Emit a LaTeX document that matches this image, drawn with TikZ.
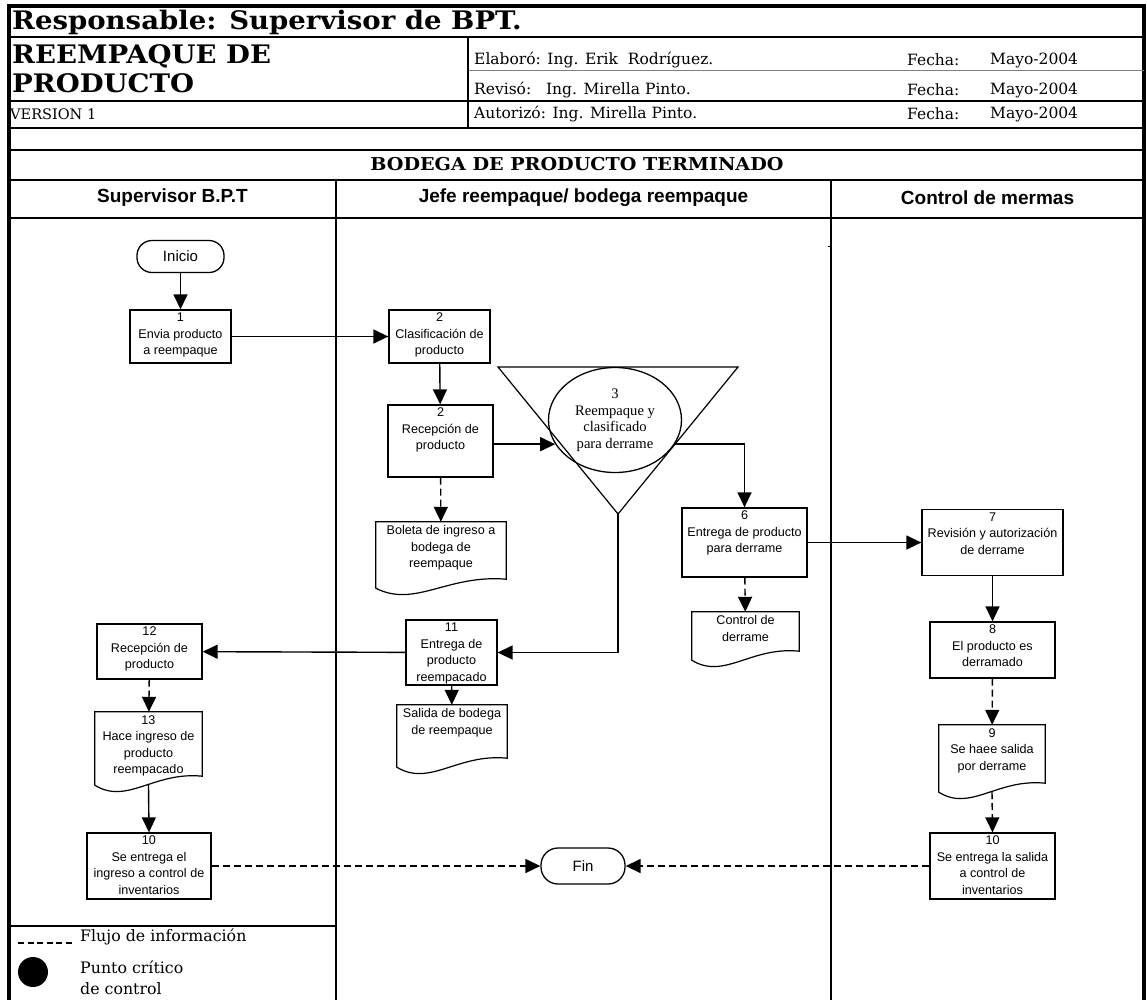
\documentclass[tikz,border=0pt]{standalone}
\usepackage{fontspec}
\setmainfont{Liberation Serif}
\setsansfont{Liberation Sans}
\newfontfamily\headserif{DejaVu Serif}
\newfontfamily\wideserif[FakeStretch=1.08]{DejaVu Serif}
\usetikzlibrary{arrows.meta,shapes.geometric,calc}

\newcommand\boxfont{\sffamily\fontsize{12.6}{16.5}\selectfont}
\newcommand\titlefont{\wideserif\bfseries\fontsize{25.5}{28}\selectfont}
\newcommand\infofont{\headserif\fontsize{15.5}{18}\selectfont}
\newcommand\legendfont{\headserif\fontsize{15.8}{18}\selectfont}
\newcommand\lanefont{\sffamily\bfseries\fontsize{19}{22}\selectfont}

% document symbol: straight top and sides, wavy bottom edge
\newcommand\drawdoc[1]{%
  \draw[line width=1.2pt] (#1.south west) -- (#1.north west) -- (#1.north east)
    -- ([yshift=9pt]#1.south east)
    .. controls ($(#1.south west)!0.55!(#1.south east)+(0,-14)$)
       and ($(#1.south west)!0.3!(#1.south east)+(0,20)$) .. (#1.south west) -- cycle;}

\begin{document}
\begin{tikzpicture}[x=1pt,y=-1pt,
  rule/.style={line width=2.4pt},
  lane/.style={line width=1.6pt},
  procbox/.style={draw, line width=1.3pt, rectangle, inner sep=0pt},
  docframe/.style={rectangle, inner sep=0pt},
  boxtext/.style={anchor=north, inner sep=0pt, yshift=-3.5pt, align=center, font=\boxfont},
  term/.style={draw, line width=1.3pt, rectangle, inner sep=0pt, font=\sffamily\fontsize{15}{18}\selectfont},
  flow/.style={line width=1.4pt, -{Triangle[length=15pt,width=14pt]}},
  info/.style={flow, dash pattern=on 7pt off 4pt},
  hdr/.style={anchor=west, inner sep=0pt, font=\infofont},
]
\useasboundingbox (0,0) rectangle (1147,999);
\clip (0,0) rectangle (1147,999);

% ---------- heading block ----------
\draw[line width=3.5pt] (9,1010) -- (9,6) -- (1144,6) -- (1144,1010);
\draw[rule] (9,37) -- (1144,37);
\draw[line width=1pt, gray] (468,70) -- (1144,70);
\draw[line width=1.8pt] (9,101) -- (1144,101);
\draw[rule] (9,128) -- (1144,128);
\draw[rule] (9,150) -- (1144,150);
\draw[line width=1.6pt] (9,180) -- (1144,180);
\draw[rule] (9,218) -- (1144,218);
\draw[line width=2pt] (468,37) -- (468,128);

\node[anchor=west, inner sep=0pt, font=\titlefont] (title) at (12,22) {Responsable: Supervisor de BPT.};
\node[anchor=west, inner sep=0pt, font=\titlefont] (name1) at (12,56) {REEMPAQUE DE};
\node[anchor=west, inner sep=0pt, font=\titlefont] (name2) at (12,83) {PRODUCTO};
\node[hdr, font=\headserif\fontsize{14.5}{17}\selectfont] (version) at (10,114) {VERSION 1};
\node[hdr] (elab) at (474,60) {Elaboró: Ing. Erik\ \ Rodríguez.};
\node[hdr] (rev) at (474,90) {Revisó:\ \ \ Ing. Mirella Pinto.};
\node[hdr] (aut) at (474,114) {Autorizó: Ing. Mirella Pinto.};
\node[hdr] (f1) at (907,60) {Fecha:};
\node[hdr] (f2) at (907,90) {Fecha:};
\node[hdr] (f3) at (907,114) {Fecha:};
\node[hdr] (d1) at (990,60) {Mayo-2004};
\node[hdr] (d2) at (990,90) {Mayo-2004};
\node[hdr] (d3) at (990,114) {Mayo-2004};
\node[inner sep=0pt, font=\wideserif\bfseries\fontsize{17.7}{20}\selectfont] (area) at (577,164) {BODEGA DE PRODUCTO TERMINADO};

% ---------- swim lanes ----------
\draw[lane] (336,180) -- (336,1010);
\draw[lane] (831,180) -- (831,1010);
\draw[line width=1pt] (828,246) -- (831,246);
\node[inner sep=0pt, font=\lanefont] (lane1) at (172.5,198) {Supervisor B.P.T};
\node[inner sep=0pt, font=\lanefont] (lane2) at (583.5,198) {Jefe reempaque/ bodega reempaque};
\node[inner sep=0pt, font=\lanefont] (lane3) at (987.5,198) {Control de mermas};

% ---------- legend ----------
\draw[line width=1.2pt] (9,926) -- (336,926);
\draw[line width=1.2pt, dash pattern=on 6pt off 3.5pt] (18,943) -- (72,943);
\node[anchor=west, inner sep=0pt, font=\legendfont] (leg1) at (80,937) {Flujo de información};
\fill (33,972) circle[radius=15pt];
\node[anchor=west, inner sep=0pt, font=\legendfont] (leg2) at (80,967) {Punto crítico};
\node[anchor=west, inner sep=0pt, font=\legendfont] (leg3) at (80,989) {de control};

% ---------- terminals ----------
\node[term, rounded corners=15pt, minimum width=87pt, minimum height=32pt] (inicio) at (180.5,256.5) {Inicio};
\node[term, rounded corners=17pt, minimum width=84pt, minimum height=36pt] (fin) at (583,866) {Fin};

% ---------- process boxes ----------
\node[procbox, minimum width=101pt, minimum height=53pt] (b1) at (180.5,336.5) {};
\node[boxtext] (b1t) at (b1.north) {1\\Envia producto\\a reempaque};
\node[procbox, minimum width=101pt, minimum height=53pt] (b2a) at (439.5,336.5) {};
\node[boxtext] (b2at) at (b2a.north) {2\\Clasificación de\\producto};
\node[procbox, minimum width=105pt, minimum height=72pt] (b2b) at (440.5,441) {};
\node[boxtext] (b2bt) at (b2b.north) {2\\Recepción de\\producto};
\node[procbox, minimum width=125pt, minimum height=69pt] (b6) at (744.5,542.5) {};
\node[boxtext] (b6t) at (b6.north) {6\\Entrega de producto\\para derrame};
\node[procbox, minimum width=141pt, minimum height=66pt] (b7) at (992.5,542.5) {};
\node[boxtext] (b7t) at (b7.north) {7\\Revisión y autorización\\de derrame};
\node[procbox, minimum width=125pt, minimum height=56pt] (b8) at (992.5,650) {};
\node[boxtext] (b8t) at (b8.north) {8\\El producto es\\derramado};
\node[procbox, minimum width=125pt, minimum height=66pt] (b10r) at (992.5,866) {};
\node[boxtext] (b10rt) at (b10r.north) {10\\Se entrega la salida\\a control de\\inventarios};
\node[procbox, minimum width=124pt, minimum height=66pt] (b10l) at (149,866) {};
\node[boxtext] (b10lt) at (b10l.north) {10\\Se entrega el\\ingreso a control de\\inventarios};
\node[procbox, minimum width=91pt, minimum height=65pt] (b11) at (451.5,652.5) {};
\node[boxtext] (b11t) at (b11.north) {11\\Entrega de\\producto\\reempacado};
\node[procbox, minimum width=105pt, minimum height=55pt] (b12) at (149.5,651.5) {};
\node[boxtext] (b12t) at (b12.north) {12\\Recepción de\\producto};

% ---------- documents ----------
\node[docframe, minimum width=130pt, minimum height=66pt] (boleta) at (441,555) {};
\drawdoc{boleta}
\node[boxtext] (boletat) at (boleta.north) {Boleta de ingreso a\\bodega de\\reempaque};
\node[docframe, minimum width=107pt, minimum height=48pt] (ctrl) at (745.5,636) {};
\drawdoc{ctrl}
\node[boxtext] (ctrlt) at (ctrl.north) {Control de\\derrame};
\node[docframe, minimum width=106pt, minimum height=67pt] (d9) at (992,758.5) {};
\drawdoc{d9}
\node[boxtext] (d9t) at (d9.north) {9\\Se haee salida\\por derrame};
\node[docframe, minimum width=110pt, minimum height=62pt] (salida) at (452,736) {};
\drawdoc{salida}
\node[boxtext] (salidat) at (salida.north) {Salida de bodega\\de reempaque};
\node[docframe, minimum width=107pt, minimum height=73pt] (d13) at (148.5,748.5) {};
\drawdoc{d13}
\node[boxtext] (d13t) at (d13.north) {13\\Hace ingreso de\\producto\\reempacado};

% ---------- merge triangle with operation ----------
\coordinate (tl) at (498,367);
\coordinate (tr) at (738,367);
\coordinate (ta) at (618,514);
\draw[line width=1.2pt] (tl) -- (tr) -- (ta) -- cycle;
\node[draw, ellipse, line width=1.3pt, inner sep=0pt, minimum width=133pt, minimum height=105pt,
      align=center, font=\rmfamily\fontsize{14.6}{16.5}\selectfont] (e3) at (615,420)
      {3\\Reempaque y\\clasificado\\para derrame};

% ---------- connectors ----------
\draw[flow] (inicio) -- (b1);
\draw[flow] (b1) -- (b2a);
\draw[flow] (b2a) -- (b2b);
\draw[flow] (b2b.east |- e3.202) -- (e3.202);
\draw[info] (b2b) -- (boleta);
\draw[flow] (e3.-22) -| (b6.north);
\draw[flow] (ta) |- (b11.east);
\draw[flow] (b11) -- (b12);
\draw[flow] (b11) -- (salida);
\draw[info] (b12) -- (d13);
\draw[flow] (d13.south) -- (b10l.north);
\draw[info] (b10l) -- (fin);
\draw[flow] (b6) -- (b7);
\draw[info] (b6) -- (ctrl);
\draw[flow] (b7) -- (b8);
\draw[info] (b8) -- (d9);
\draw[info] (d9.south) -- (b10r.north);
\draw[info] (b10r) -- (fin);
\end{tikzpicture}
\end{document}
